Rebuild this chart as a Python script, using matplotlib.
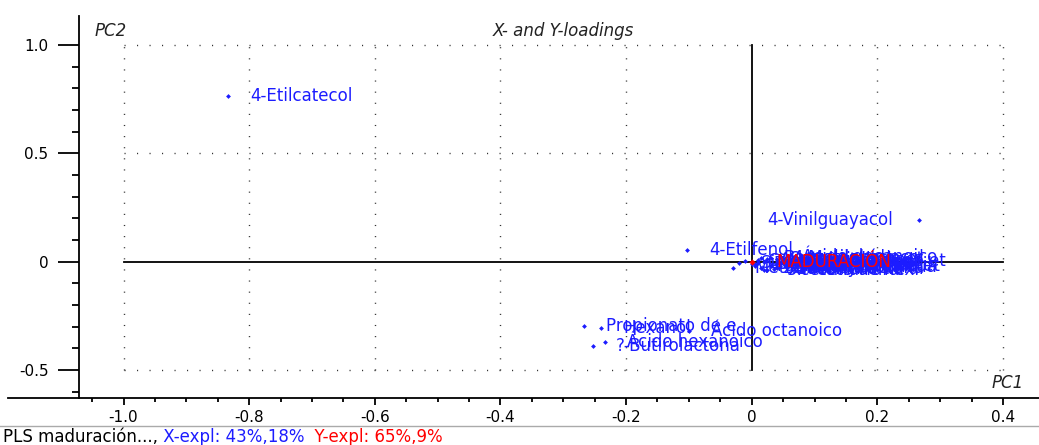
import matplotlib
matplotlib.use("Agg")
import matplotlib.pyplot as plt
import numpy as np
from matplotlib.lines import Line2D

plt.rcParams['font.family'] = ['DejaVu Sans']

# ---------------- data ----------------
x_names = ["4-Etilcatecol", "4-Vinilguayacol", "4-Etilfenol",
           "Propionato de e", "Hexanol", "?-Butirolactona", "Ácido hexanoico",
           "Ácido octanoico",
           "Ácido decanoico", "Metionol", "Guayacol", "Eugenol", "Vainillina",
           "Acetato de isoa", "Alcohol isoamíl", "2-Feniletanol", "Lactato de etil",
           "Succinato de di", "Octanoato de et", "Hexanoato de et", "Decanoato de et",
           "Acetato de etil", "Furfural", "5-Metilfurfural", "Siringol",
           "4-Metilguayacol", "Whisky-lactona", "Madera residua", "Acetovainillona",
           "Butanoato de et", "Isobutanol", "Acetato de hexi", "Benzaldehído"]
x_pc1 = [-0.833, 0.267, -0.103,
         -0.267, -0.240, -0.252, -0.233,
         -0.100,
         0.045, -0.030, -0.010, 0.000, 0.010,
         0.020, 0.030, 0.015, 0.040,
         0.035, 0.025, 0.045, 0.055,
         0.060, 0.005, 0.020, -0.020,
         0.030, 0.040, 0.055, 0.010,
         0.005, 0.050, 0.025, 0.015]
x_pc2 = [0.764, 0.194, 0.052,
         -0.296, -0.306, -0.390, -0.370,
         -0.318,
         0.022, -0.030, 0.005, -0.012, -0.005,
         0.000, -0.018, -0.028, -0.008,
         -0.035, 0.012, -0.022, 0.004,
         -0.015, -0.020, -0.040, -0.004,
         0.016, -0.030, -0.025, 0.010,
         -0.010, 0.008, -0.038, 0.018]
y_names = ["MADURACIÓN"]
y_pc1 = [0.0]
y_pc2 = [0.0]

x_major = [-1.0, -0.8, -0.6, -0.4, -0.2, 0.0, 0.2, 0.4]
x_major_labels = ["-1.0", "-0.8", "-0.6", "-0.4", "-0.2", "0", "0.2", "0.4"]
y_major = [-0.5, 0.0, 0.5, 1.0]
y_major_labels = ["-0.5", "0", "0.5", "1.0"]

BLUE = "#1c1cff"
RED = "#ff0000"
FS = 12

W, H = 1039, 445
fig = plt.figure(figsize=(W / 100, H / 100), dpi=100)
L, R, T, B = 79, 1030, 16, 398
ax = fig.add_axes([L / W, 1 - B / H, (R - L) / W, (B - T) / H])
ax.set_xlim(-1.0709, 0.443)
ax.set_ylim(-0.629, 1.134)

# dotted grid box
for gx in [-1.0, -0.8, -0.6, -0.4, -0.2, 0.2, 0.4]:
    ax.plot([gx, gx], [-0.5, 1.0], color="#333333", lw=1.0, ls=(0, (0.8, 7.2)), zorder=1)
for gy in [1.0, 0.5, -0.5]:
    ax.plot([-1.0, 0.4], [gy, gy], color="#333333", lw=1.0, ls=(0, (0.8, 8.2)), zorder=1)
# zero lines
ax.plot([0, 0], [-0.5, 1.0], color="black", lw=1.3, zorder=2)
ax.plot([-1.0, 0.4], [0, 0], color="black", lw=1.3, zorder=2)

# X-loadings
ax.scatter(x_pc1, x_pc2, s=6, marker="D", color=BLUE, zorder=3, linewidths=0)
for n, px, py in zip(x_names, x_pc1, x_pc2):
    if px > 0.2:
        ax.annotate(n, (px, py), xytext=(-26, 0), textcoords="offset pixels",
                    ha="right", va="center", color=BLUE, fontsize=FS, zorder=4)
    else:
        ax.annotate(n, (px, py), xytext=(22, 0), textcoords="offset pixels",
                    ha="left", va="center", color=BLUE, fontsize=FS, zorder=4)

# Y-loadings
ax.scatter(y_pc1, y_pc2, s=10, marker="D", color=RED, zorder=5, linewidths=0)
for n, px, py in zip(y_names, y_pc1, y_pc2):
    ax.annotate(n, (px, py), xytext=(25, 0), textcoords="offset pixels",
                ha="left", va="center", color=RED, fontsize=FS, zorder=6)

# axes styling
for s in ["top", "right"]:
    ax.spines[s].set_visible(False)
ax.spines["left"].set_linewidth(1.3)
ax.spines["bottom"].set_visible(False)

ax.set_yticks(y_major)
ax.set_yticklabels(y_major_labels)
ax.set_yticks(np.round(np.arange(-0.6, 1.01, 0.1), 2), minor=True)
ax.tick_params(axis="y", which="major", length=15, width=1.3, pad=7, labelsize=11)
ax.tick_params(axis="y", which="minor", length=5, width=1.3)

ax.set_xticks(x_major)
ax.set_xticklabels(x_major_labels)
ax.set_xticks(np.round(np.arange(-1.05, 0.41, 0.05), 2), minor=True)
ax.tick_params(axis="x", which="major", length=5, width=1.3, pad=4, labelsize=11)
ax.tick_params(axis="x", which="minor", length=3, width=1.3)

# full-width horizontal lines
fig.add_artist(Line2D([8 / W, 1.0], [1 - B / H, 1 - B / H], color="black", lw=1.3,
                      transform=fig.transFigure))
fig.add_artist(Line2D([0, 1.0], [1 - 426 / H, 1 - 426 / H], color="#aaaaaa", lw=1.0,
                      transform=fig.transFigure))

# titles
fig.text(563 / W, 1 - 31 / H, "X- and Y-loadings", ha="center", va="center",
         fontsize=FS, style="italic", color="#222222")
fig.text(95 / W, 1 - 31 / H, "PC2", ha="left", va="center",
         fontsize=FS, style="italic", color="#222222")
fig.text(1024 / W, 1 - 383 / H, "PC1", ha="right", va="center",
         fontsize=FS, style="italic", color="#222222")

# footer
t1 = fig.text(3 / W, 1 - 437 / H, "PLS maduración...,", ha="left", va="center",
              fontsize=FS, color="black")
t2 = ax.annotate(" X-expl: 43%,18%", xy=(1, 0), xycoords=t1, va="bottom",
                 ha="left", fontsize=FS, color=BLUE, annotation_clip=False)
t3 = ax.annotate("  Y-expl: 65%,9%", xy=(1, 0), xycoords=t2, va="bottom",
                 ha="left", fontsize=FS, color=RED, annotation_clip=False)

fig.savefig("out.png", dpi=100)
